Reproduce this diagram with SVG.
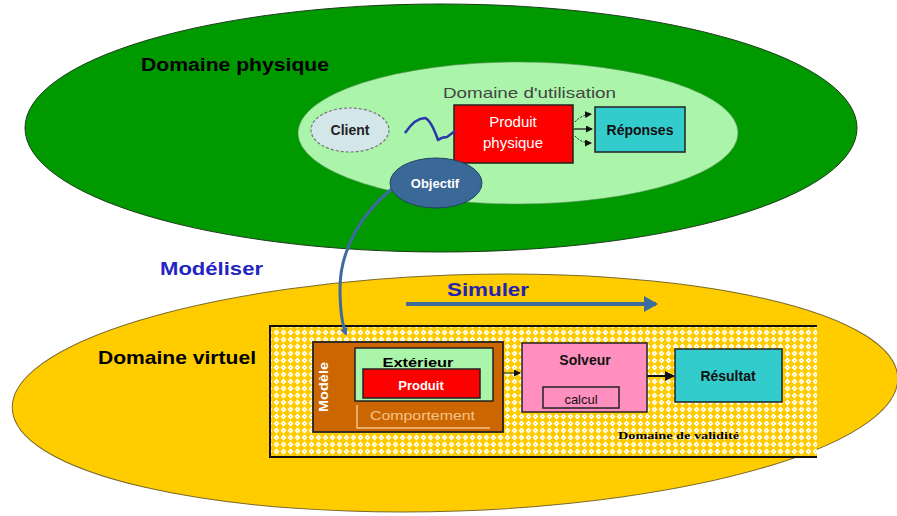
<svg xmlns="http://www.w3.org/2000/svg" width="897" height="516" viewBox="0 0 897 516">
<style>
text{font-family:"Liberation Sans",Arial,sans-serif}
.b{font-weight:bold}
.box{stroke:#222;stroke-width:1.5}
.blueline{fill:none;stroke:#3d6b9e}
.blk{fill:none;stroke:#111}
</style>
<defs>
<pattern id="hatch" width="7" height="7" patternUnits="userSpaceOnUse">
<rect width="7" height="7" fill="#ffcc00"/>
<path d="M3.5 0.6 L6.4 3.5 L3.5 6.4 L0.6 3.5Z" fill="#ffffff"/>
<rect x="3" y="3" width="1" height="1" fill="#ffcc00"/>
</pattern>
<marker id="ab" markerWidth="8" markerHeight="8" refX="6" refY="4" orient="auto" markerUnits="userSpaceOnUse" viewBox="0 0 8 8">
<path d="M0 0 L8 4 L0 8Z" fill="#3d6b9e"/>
</marker>
<marker id="ab2" markerWidth="14" markerHeight="16" refX="12" refY="8" orient="auto" markerUnits="userSpaceOnUse" viewBox="0 0 14 16">
<path d="M0 0 L14 8 L0 16Z" fill="#3d6b9e"/>
</marker>
<marker id="ak" markerWidth="7" markerHeight="7" refX="6" refY="3.5" orient="auto" markerUnits="userSpaceOnUse" viewBox="0 0 7 7">
<path d="M0 0 L7 3.5 L0 7Z" fill="#111"/>
</marker>
<marker id="ak2" markerWidth="10" markerHeight="10" refX="9" refY="5" orient="auto" markerUnits="userSpaceOnUse" viewBox="0 0 10 10">
<path d="M0 0 L10 5 L0 10Z" fill="#111"/>
</marker>
</defs>
<rect width="897" height="516" fill="#ffffff"/>

<g id="domaine-physique">
<ellipse cx="441" cy="128" rx="416" ry="124" fill="#009900" stroke="#1d3d1d" stroke-width="1"/>
<text class="b" x="141" y="71" font-size="18" textLength="188" lengthAdjust="spacingAndGlyphs" fill="#000">Domaine physique</text>
</g>

<g id="domaine-utilisation">
<ellipse cx="518" cy="133" rx="220" ry="71" fill="#aaf5aa" stroke="#5d8f5d" stroke-width="0.6"/>
<text x="443" y="98" font-size="15" textLength="173" lengthAdjust="spacingAndGlyphs" fill="#444">Domaine d'utilisation</text>
</g>

<g id="domaine-virtuel">
<ellipse cx="455" cy="393" rx="443" ry="118" transform="rotate(-2 455 393)" fill="#ffcc00" stroke="#7a6a2a" stroke-width="1"/>
<text class="b" x="98" y="364" font-size="19" textLength="158" lengthAdjust="spacingAndGlyphs" fill="#000">Domaine virtuel</text>
</g>

<g id="domaine-validite">
<rect x="270" y="326" width="547" height="131" fill="url(#hatch)"/>
<path d="M817 326 H270 V457 H817" fill="none" stroke="#111" stroke-width="2"/>
<text x="618" y="439" font-size="11" font-weight="bold" style="font-family:'Liberation Serif','Times New Roman',serif" textLength="121" lengthAdjust="spacingAndGlyphs" fill="#000">Domaine de validité</text>
</g>

<g id="client">
<ellipse cx="350" cy="130" rx="39" ry="22" fill="#d3e6ea" stroke="#777" stroke-width="1.2" stroke-dasharray="3 2"/>
<text class="b" x="350" y="135" font-size="14" text-anchor="middle" fill="#222">Client</text>
</g>

<g id="produit-physique">
<rect class="box" x="454" y="105" width="119" height="58" fill="#ff0000"/>
<text x="513" y="127" font-size="15" text-anchor="middle" fill="#fff">Produit</text>
<text x="513" y="148" font-size="15" text-anchor="middle" fill="#fff">physique</text>
</g>

<g id="reponses">
<rect class="box" x="595" y="107" width="90" height="45" fill="#33cccc"/>
<text class="b" x="640" y="135" font-size="14" text-anchor="middle" fill="#111">Réponses</text>
</g>

<g id="connectors">
<path d="M405 133 Q415 118 425 118 Q431 120 438 140 Q442 137 447 137 L455 131" fill="none" stroke="#2a3aa8" stroke-width="2.5" stroke-linejoin="round"/>
<path class="blk" d="M575 122 Q581 115 591 114" stroke-width="1" stroke-dasharray="2 1.5" marker-end="url(#ak)"/>
<path class="blk" d="M574 129 H592" stroke-width="1.2" marker-end="url(#ak)"/>
<path class="blk" d="M575 136 Q581 143 591 143" stroke-width="1" stroke-dasharray="2 1.5" marker-end="url(#ak)"/>
<path class="blueline" d="M393 188 C362 212 340 250 340 288 C340 310 342 324 346 334" stroke-width="3" marker-end="url(#ab)"/>
<path class="blueline" d="M406 304 H656" stroke-width="4" marker-end="url(#ab2)"/>
<path class="blk" d="M503 373 H520" stroke-width="1" marker-end="url(#ak)"/>
<path class="blk" d="M647 376 H674" stroke-width="2" marker-end="url(#ak2)"/>
</g>

<g id="objectif">
<ellipse cx="436" cy="183" rx="46" ry="25" fill="#3a6897" stroke="#22405e" stroke-width="1"/>
<text class="b" x="435" y="188" font-size="13" text-anchor="middle" fill="#fff">Objectif</text>
</g>

<g id="labels">
<text class="b" x="160" y="275" font-size="18" textLength="103" lengthAdjust="spacingAndGlyphs" fill="#2424c0">Modéliser</text>
<text class="b" x="447" y="296" font-size="19" textLength="82" lengthAdjust="spacingAndGlyphs" fill="#2424b0">Simuler</text>
</g>

<g id="modele">
<rect x="313" y="342" width="190" height="90" fill="#cc6600" stroke="#222" stroke-width="1.8"/>
<text class="b" x="324" y="391" font-size="12" text-anchor="middle" transform="rotate(-90 324 387)" textLength="50" lengthAdjust="spacingAndGlyphs" fill="#fff">Modèle</text>
<polyline points="357,405 357,428 490,428" fill="none" stroke="#f5c38a" stroke-width="1.5"/>
<text x="370" y="420" font-size="13" textLength="105" lengthAdjust="spacingAndGlyphs" fill="#f5c38a">Comportement</text>
</g>

<g id="exterieur">
<rect class="box" x="355" y="348" width="138" height="53" fill="#aaf5aa"/>
<text class="b" x="418" y="367" font-size="13" text-anchor="middle" textLength="71" lengthAdjust="spacingAndGlyphs" fill="#000">Extérieur</text>
</g>

<g id="produit">
<rect class="box" x="363" y="369" width="117" height="29" fill="#ff0000"/>
<text class="b" x="421" y="390" font-size="13" text-anchor="middle" fill="#fff">Produit</text>
</g>

<g id="solveur">
<rect class="box" x="522" y="343" width="125" height="69" fill="#ff8fbf"/>
<text class="b" x="585" y="365" font-size="14" text-anchor="middle" fill="#111">Solveur</text>
<rect class="box" x="543" y="387" width="76" height="21" fill="none"/>
<text x="581" y="404" font-size="13" text-anchor="middle" fill="#111">calcul</text>
</g>

<g id="resultat">
<rect class="box" x="675" y="349" width="107" height="53" fill="#33cccc"/>
<text class="b" x="728" y="381" font-size="14" text-anchor="middle" fill="#111">Résultat</text>
</g>
</svg>
